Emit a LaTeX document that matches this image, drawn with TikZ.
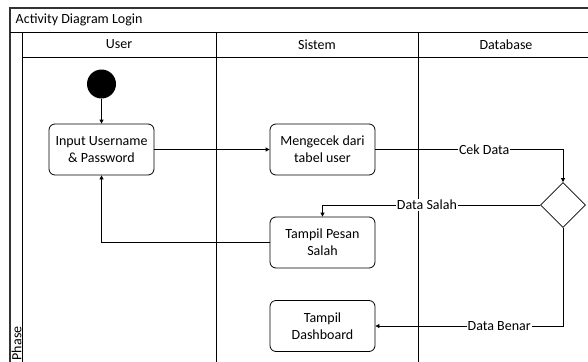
\documentclass[tikz,border=0pt]{standalone}
\usepackage{fontspec}
\setmainfont{Carlito}
\usetikzlibrary{arrows.meta,shapes.geometric}

\tikzset{
  act/.style={draw,rounded corners=6pt,minimum width=105pt,minimum height=51pt,
    align=center,inner sep=2pt},
  lbl/.style={fill=white,inner sep=1pt},
  flow/.style={-{Triangle[length=4pt,width=4pt]}}
}

\begin{document}
\begin{tikzpicture}[x=1pt,y=-1pt,font=\fontsize{14}{17}\selectfont,line width=0.8pt]
        \useasboundingbox (0,0) rectangle (588,361);

        % pool and lanes
        \draw[line width=1.2pt,black!80] (10,8) rectangle (594,372);
        \draw (10,32) -- (594,32);
        \draw (22,32) -- (22,372);
        \draw (22,57) -- (594,57);
        \draw (216,32) -- (216,372);
        \draw (418,32) -- (418,372);

        \node[anchor=west] (title) at (12,20) {Activity Diagram Login};
        \node[rotate=90,anchor=west] (phase) at (16.5,364) {Phase};
        \node (user) at (119,44.5) {User};
        \node (sistem) at (317,44.5) {Sistem};
        \node (database) at (506,44.5) {Database};

        \begin{scope}[every node/.style={act}]
          \node (input)  at (101.5,149.5) {Input Username\\\& Password};
          \node (cek)    at (322.5,149.5) {Mengecek dari\\tabel user};
          \node (salah)  at (322.5,242.5) {Tampil Pesan\\Salah};
          \node (dash)   at (322.5,326)   {Tampil\\Dashboard};
        \end{scope}

        \node[circle,fill=black,minimum size=29pt,inner sep=0pt] (start) at (101.5,84) {};
        \node[diamond,draw,minimum width=45pt,minimum height=45pt,inner sep=0pt] (dec) at (563,205) {};

        \begin{scope}[every node/.style={lbl}]
          \draw[flow] (start) -- (input);
          \draw[flow] (input) -- (cek);
          \draw[flow] (cek.east) -| node[pos=0.29] {Cek Data} (dec.north);
          \draw[flow] (dec.west) -| node[pos=0.26] {Data Salah} (salah.north);
          \draw[flow] (dec.south) |- node[pos=0.67] {Data Benar} (dash.east);
          \draw[flow] (salah.west) -| (input.south);
        \end{scope}

      \end{tikzpicture}
\end{document}
